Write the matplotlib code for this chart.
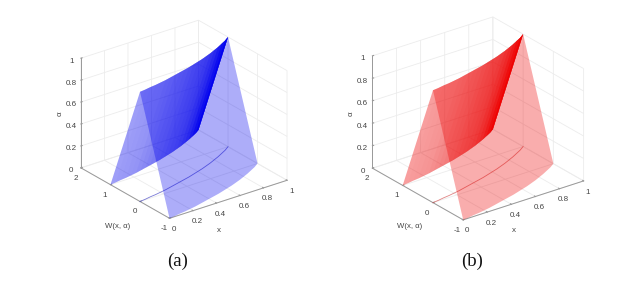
import matplotlib
matplotlib.use("Agg")
import matplotlib.pyplot as plt
from matplotlib.transforms import ScaledTranslation
import numpy as np

plt.rcParams['font.family'] = ['Liberation Sans', 'DejaVu Sans']

# Data
x_vals = [0, .05, .1, .15, .2, .25, .3, .35, .4, .45, .5, .55, .6, .65, .7, .75, .8, .85, .9, .95, 1]
w_mid = [0, .02, .05, .07, .10, .13, .17, .21, .25, .29, .33, .38, .43, .48, .54, .60, .67, .74, .82, .90, 1.0]
alpha_levels = [0, 1]
back_shade = [.38, .39, .40, .41, .42, .44, .46, .48, .50, .52, .55, .58, .60, .62, .65, .70, .75, .82, .90, .96]
x_ticks = [0, .2, .4, .6, .8, 1]
x_ticklabels = ['0', '0.2', '0.4', '0.6', '0.8', '1']
w_ticks = [-1, 0, 1, 2]
w_ticklabels = ['-1', '0', '1', '2']
z_ticks = [0, .2, .4, .6, .8, 1]
z_ticklabels = ['0', '0.2', '0.4', '0.6', '0.8', '1']

FIG_W, FIG_H = 641, 287


def panel(pos, zoom, base, line_col, letter, letter_xy, xlab_xy, wlab_xy, zlab_xy):
    ax = fig.add_axes(pos, projection='3d', proj_type='ortho')
    ax.view_init(elev=25.4, azim=-127)
    ax.set_box_aspect((1, 1, .825), zoom=zoom)
    ax.patch.set_alpha(0)

    X, A = np.meshgrid(x_vals, alpha_levels)
    mid = np.array(w_mid)
    n = len(x_vals)

    # back sheet: nested pieces so the colour builds up towards x = 1
    W = mid + (1 - A)
    prev = 0
    for i, a in enumerate(back_shade):
        step = 1 - (1 - a) / (1 - prev)
        ax.plot_surface(X[:, i:], W[:, i:], A[:, i:], color=base, alpha=step,
                        rstride=1, cstride=n, linewidth=0, shade=False)
        prev = a

    # front sheet, one even piece
    W = mid - (1 - A)
    ax.plot_surface(X, W, A, color=base, alpha=.32, rstride=1, cstride=n,
                    linewidth=0, shade=False)
    ax.plot(x_vals, w_mid, [0] * n, color=line_col, lw=.6, alpha=.6)

    ax.set_xlim(0, 1)
    ax.set_ylim(-1, 2)
    ax.set_zlim(0, 1)
    ax.set_xticks(x_ticks, x_ticklabels)
    ax.set_yticks(w_ticks, w_ticklabels)
    ax.set_zticks(z_ticks, z_ticklabels)
    ax.tick_params(labelsize=5.8, colors='#444444', pad=-3)
    # nudge tick labels, in pixels
    shifts = {ax.xaxis: (3, 2), ax.yaxis: (-3, 3), ax.zaxis: (1, 3)}
    for axis, (dx, dy) in shifts.items():
        axis.set_pane_color((1, 1, 1, 0))
        axis.pane.set_edgecolor('#e6e6e6')
        axis.line.set_color('#999999')
        axis.line.set_linewidth(.7)
        axis._axinfo['grid'].update(color='#ececec', linewidth=.6)
        axis._axinfo['tick'].update(inward_factor=.0, outward_factor=.12)
        for t in axis.get_ticklines():
            t.set_color('#999999')
        off = ScaledTranslation(dx / 100, dy / 100, fig.dpi_scale_trans)
        for tick in axis.get_major_ticks():
            tick.label1.set_transform(ax.transData + off)

    fig.text(xlab_xy[0] / FIG_W, 1 - xlab_xy[1] / FIG_H, 'x', fontsize=5.8, color='#444444', ha='center', va='center')
    fig.text(wlab_xy[0] / FIG_W, 1 - wlab_xy[1] / FIG_H, 'W(x, α)', fontsize=5.6, color='#444444', ha='center', va='center')
    fig.text(zlab_xy[0] / FIG_W, 1 - zlab_xy[1] / FIG_H, 'α', fontsize=5.8, color='#444444', ha='center', va='center', rotation=90)
    fig.text(letter_xy[0] / FIG_W, 1 - letter_xy[1] / FIG_H, letter, fontsize=13.5, family='Liberation Serif', color='#111111', ha='center', va='center')
    return ax


fig = plt.figure(figsize=(6.41, 2.87), dpi=100, facecolor='white')
panel([.051, .071, .46, 1.0], .815, '#0000ee', '#2222bb', '(a)', (178, 261), (219, 230), (118, 227), (60, 114))
panel([.5097, .074, .46, 1.0], .835, '#ee0000', '#cc3333', '(b)', (472, 261), (514, 230), (410, 227), (351, 114))
fig.savefig('out.png', dpi=100)
